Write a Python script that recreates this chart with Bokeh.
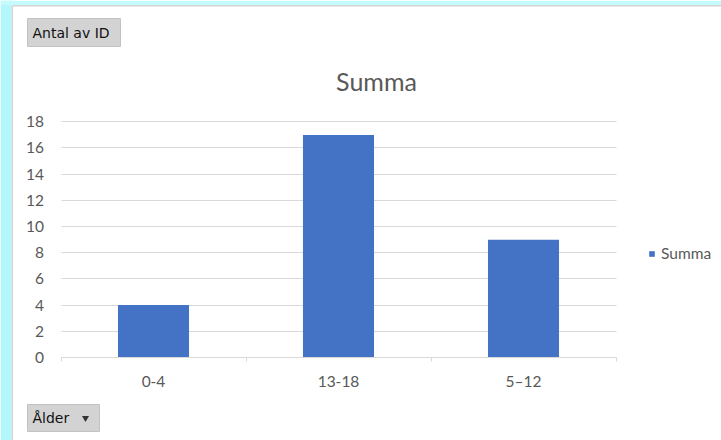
from bokeh.plotting import figure
from bokeh.models import Range1d, FixedTicker, Legend, LegendItem
from bokeh.core.properties import value
from bokeh.embed import file_html
from bokeh.resources import INLINE

# ---- data ----
categories = ["0-4", "13-18", "5–12"]
counts = [4, 17, 9]
y_ticks = [0, 2, 4, 6, 8, 10, 12, 14, 16, 18]
series_name = "Summa"
chart_title = "Summa"
value_field_button = "Antal av ID"
axis_field_button = "Ålder"

# ---- style / layout ----
BAR = "#4472c4"
TXT = "#595959"
GRID = "#d9d9d9"
FONT = "Lato"
W, H = 721, 440
PL, PR, PT, PB = 60.5, 615.5, 121.3, 357.0   # plot area in canvas pixels

n = len(categories)
ppx = (PR - PL) / n
ppy = (PB - PT) / y_ticks[-1]

p = figure(width=W, height=H, output_backend="svg", toolbar_location=None,
           x_range=Range1d(-PL / ppx, (W - PL) / ppx),
           y_range=Range1d(-(H - PB) / ppy, PB / ppy),
           min_border=0, min_border_left=0, min_border_right=0,
           min_border_top=0, min_border_bottom=0,
           background_fill_color="white", border_fill_color="white",
           outline_line_color=None)
# canvas-pixel range for decorations (y downwards)
p.extra_x_ranges = {"px": Range1d(0, W)}
p.extra_y_ranges = {"px": Range1d(H, 0)}

# window background strips and panel border
p.quad(left=[0], right=[11], top=[0], bottom=[H], x_range_name="px", y_range_name="px",
       fill_color="#b2f7fc", line_color=None)
p.quad(left=[0], right=[W], top=[0], bottom=[4.5], x_range_name="px", y_range_name="px",
       fill_color="#c6fbfd", line_color=None)
p.segment(x0=[11.8, 11.8], y0=[5.2, 5.2], x1=[11.8, W], y1=[H, 5.2],
          x_range_name="px", y_range_name="px", line_color="#d4d4d4", line_width=1.5)

centers = [i + 0.5 for i in range(n)]
r = p.vbar(x=centers, top=counts, bottom=0, width=0.384, fill_color=BAR, line_color=None)

# x axis
xa = p.xaxis[0]
xa.fixed_location = 0
xa.bounds = (0, n)
xa.ticker = FixedTicker(ticks=centers, minor_ticks=list(range(n + 1)))
xa.major_label_overrides = {c: lab for c, lab in zip(centers, categories)}
xa.major_tick_in = 0
xa.major_tick_out = 0
xa.minor_tick_in = 0
xa.minor_tick_out = 4
xa.minor_tick_line_color = GRID
xa.axis_line_color = GRID
xa.major_label_standoff = 10
xa.major_label_text_font = FONT
xa.major_label_text_font_size = "15.5px"
xa.major_label_text_color = TXT

# y axis
ya = p.yaxis[0]
ya.fixed_location = 0
ya.ticker = FixedTicker(ticks=y_ticks)
ya.axis_line_color = None
ya.major_tick_in = 0
ya.major_tick_out = 0
ya.major_tick_line_color = None
ya.minor_tick_line_color = None
ya.major_label_standoff = 17
ya.major_label_text_font = FONT
ya.major_label_text_font_size = "15.5px"
ya.major_label_text_color = TXT

p.xgrid.visible = False
p.ygrid.grid_line_color = GRID
p.ygrid.grid_line_width = 1
p.ygrid.cross_bounds = (0, n)

# title
p.text(x=[376], y=[80], text=[chart_title], x_range_name="px", y_range_name="px",
       text_align="center", text_baseline="middle",
       text_font=value(FONT), text_font_size="25px", text_color=TXT)

# legend
leg = Legend(items=[LegendItem(label=series_name, renderers=[r])],
             location=(648, 178), padding=0, margin=0, spacing=0,
             border_line_color=None, background_fill_alpha=0,
             glyph_width=7, glyph_height=7, label_height=7, label_standoff=6,
             label_text_font=FONT, label_text_font_size="15.5px",
             label_text_color=TXT, label_text_baseline="middle")
p.add_layout(leg, "center")

# pivot field buttons
p.quad(left=[27, 27], right=[120, 99], top=[18, 404], bottom=[46, 431],
       x_range_name="px", y_range_name="px",
       fill_color="#d3d3d3", line_color="#c2c2c2")
p.text(x=[32, 32], y=[32, 417.5], text=[value_field_button, axis_field_button],
       x_range_name="px", y_range_name="px", text_align="left", text_baseline="middle",
       text_font=value("DejaVu Sans"), text_font_size="14px", text_color="#111111")
p.scatter(x=[85], y=[417.5], marker="inverted_triangle", size=7,
          x_range_name="px", y_range_name="px", fill_color="#333333", line_color=None)

open("out.html", "w").write(file_html(p, INLINE))
